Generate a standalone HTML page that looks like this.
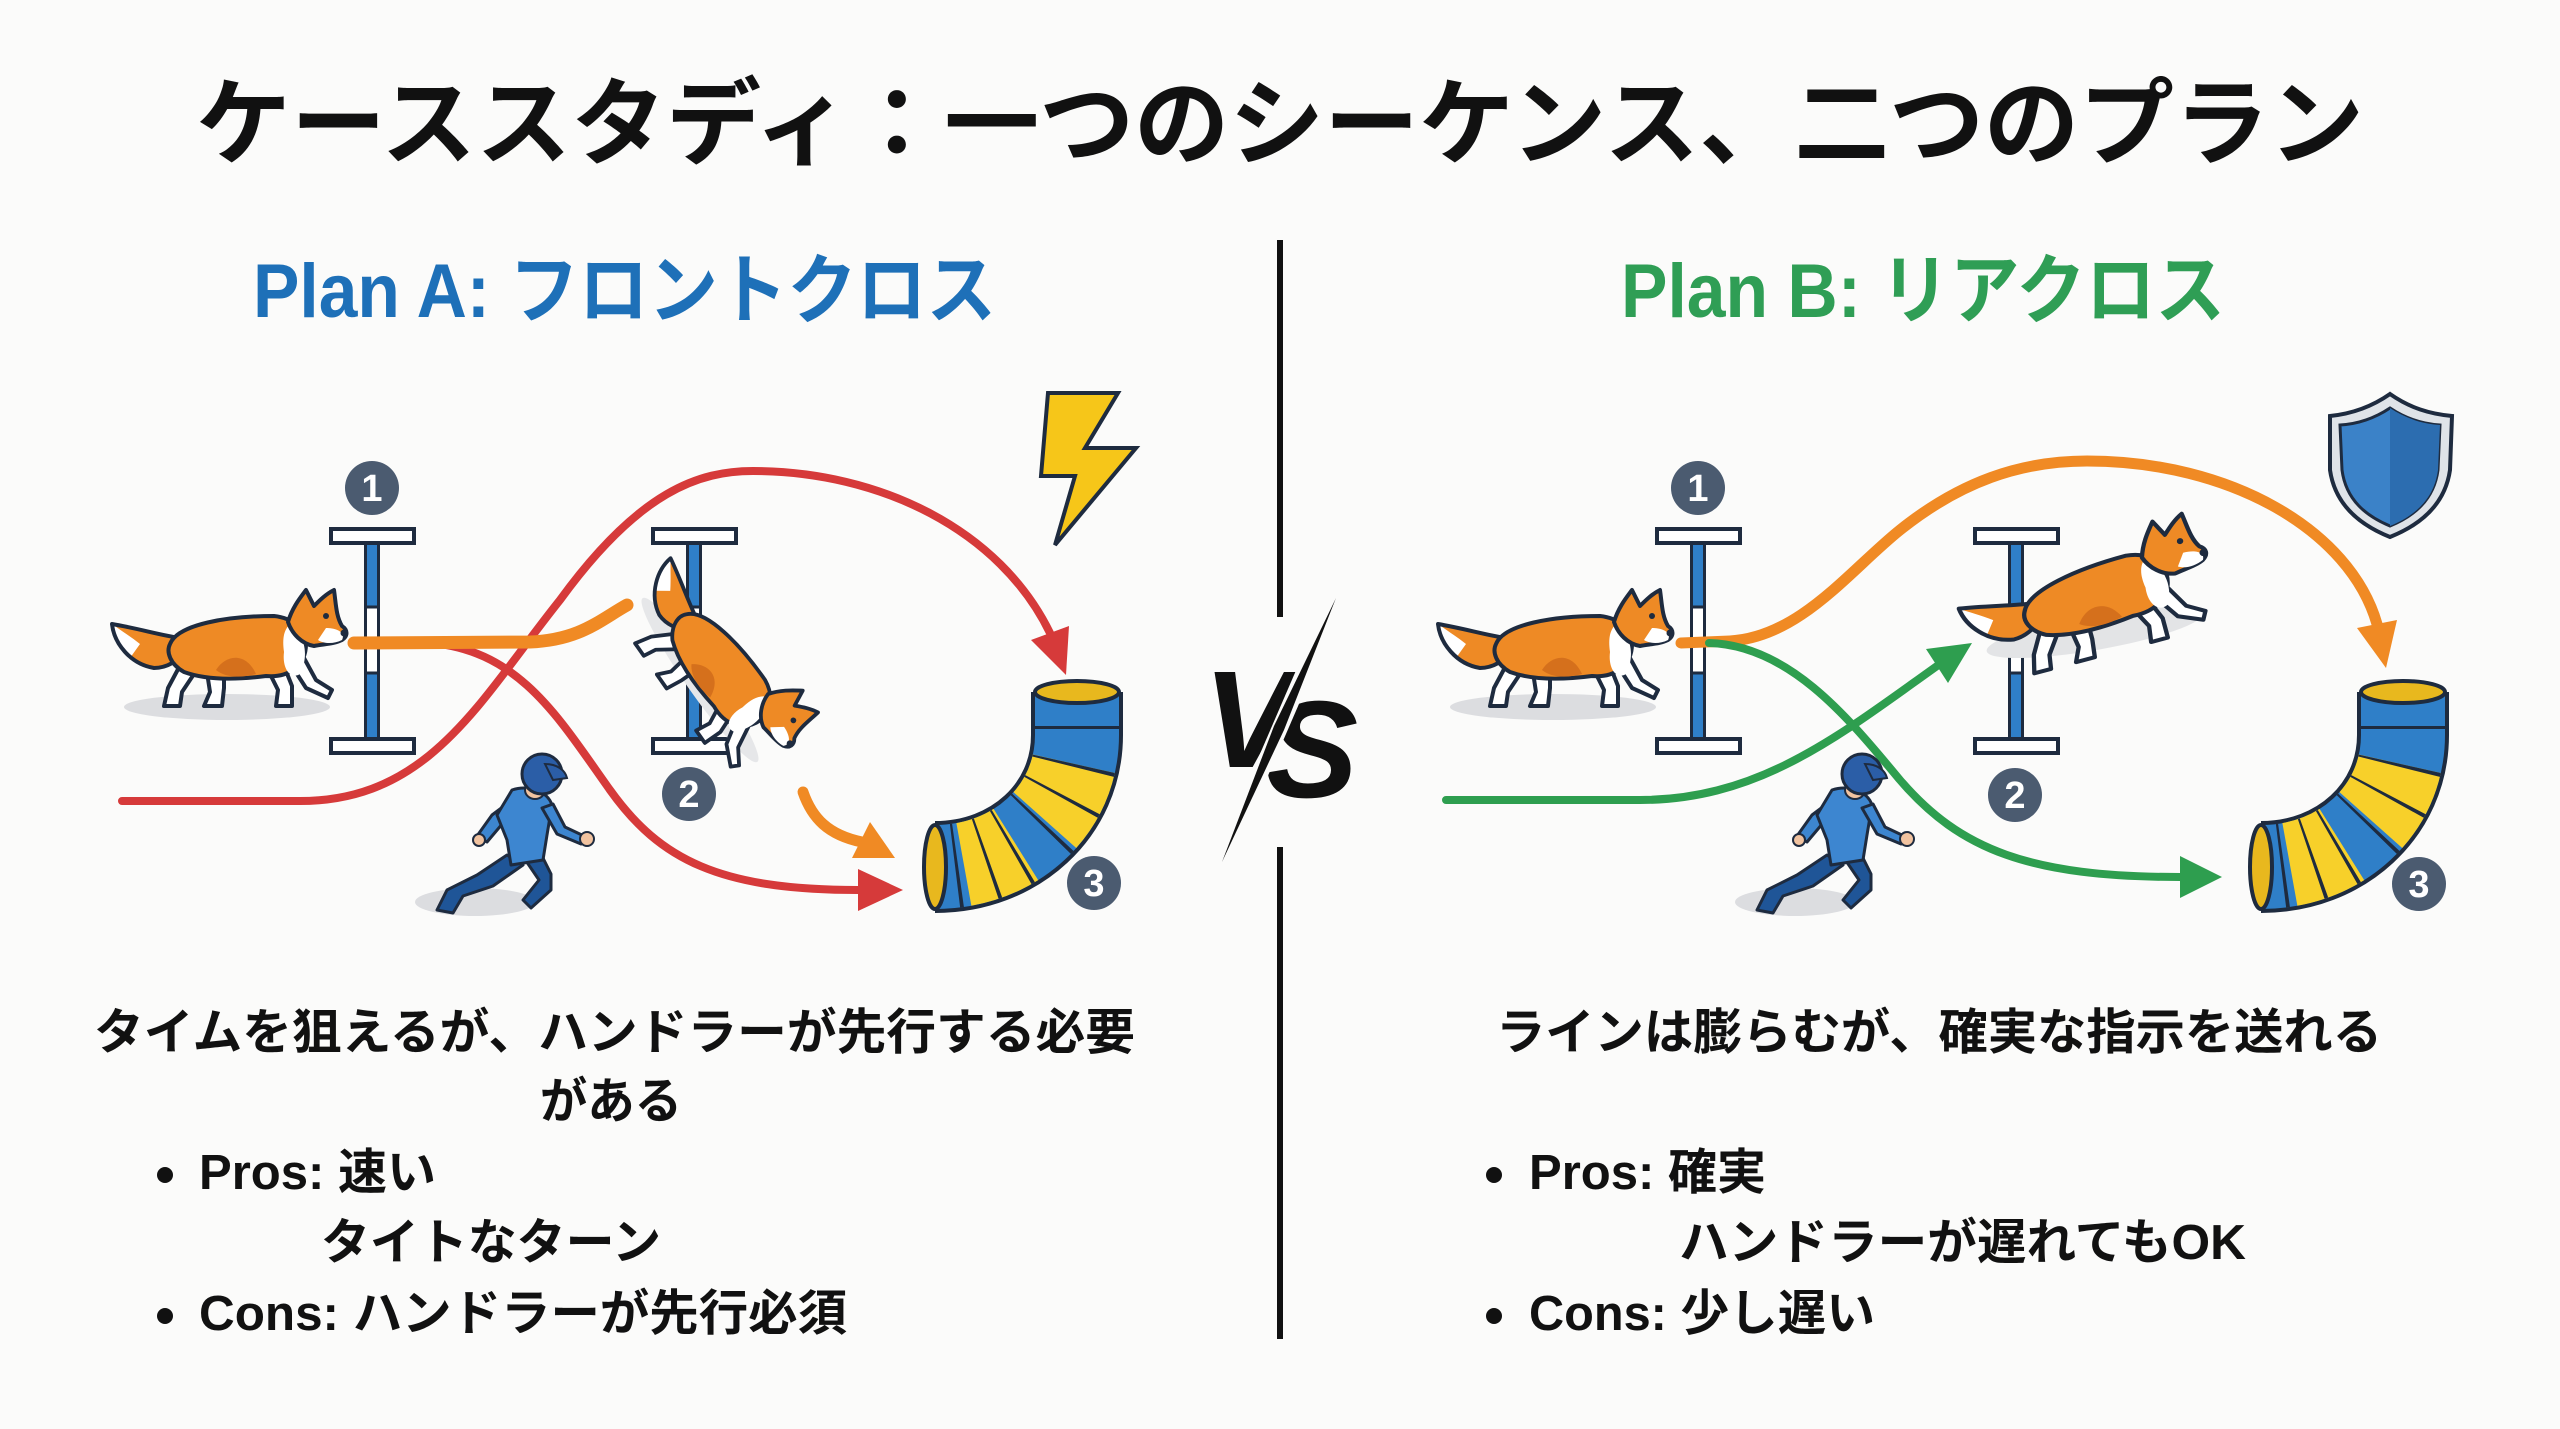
<!DOCTYPE html>
<html>
<head>
<meta charset="utf-8">
<style>
html,body{margin:0;padding:0;background:#fbfbfa;}
body{width:2560px;height:1429px;overflow:hidden;}
svg{display:block;}
text{font-family:"Liberation Sans","Noto Sans CJK JP",sans-serif;font-weight:bold;}
</style>
</head>
<body>
<svg width="2560" height="1429" viewBox="0 0 2560 1429" xmlns="http://www.w3.org/2000/svg">
<defs>
  <g id="dog">
    <path d="M78,70 L62,100 L58,118 L74,118 L76,104 L92,80Z" fill="#fff" stroke="#1e2b3f" stroke-width="4" stroke-linejoin="round"/>
    <path d="M100,78 L104,104 L98,118 L116,118 L118,100 L118,80Z" fill="#fff" stroke="#1e2b3f" stroke-width="4" stroke-linejoin="round"/>
    <path d="M160,78 L172,102 L170,118 L186,118 L186,98 L178,78Z" fill="#fff" stroke="#1e2b3f" stroke-width="4" stroke-linejoin="round"/>
    <path d="M182,72 L200,100 L222,110 L226,102 L210,92 L198,70Z" fill="#fff" stroke="#1e2b3f" stroke-width="4" stroke-linejoin="round"/>
    <path d="M74,50 C58,48 30,40 6,36 C8,55 24,76 48,80 C62,80 72,72 80,64Z" fill="#ee8a25"/>
    <path d="M6,36 C8,50 14,62 24,70 L34,56 C24,48 14,42 6,36Z" fill="#fff"/>
    <path d="M74,50 C58,48 30,40 6,36 C8,55 24,76 48,80 C62,80 72,72 80,64" fill="none" stroke="#1e2b3f" stroke-width="4" stroke-linejoin="round"/>
    <path d="M64,56 C72,36 122,28 168,28 C188,30 198,42 200,56 C200,78 182,90 160,88 C130,92 100,92 78,84 C64,76 60,64 64,56Z" fill="#ee8a25" stroke="#1e2b3f" stroke-width="4"/>
    <path d="M110,82 C120,66 140,64 150,86 C135,90 120,90 110,82Z" fill="#d5701c"/>
    <path d="M184,36 C198,46 204,66 194,86 C184,92 176,80 178,64 C176,50 178,42 184,36Z" fill="#fff"/>
    <path d="M182,34 C186,20 194,10 200,2 L208,18 C214,12 220,6 228,2 C230,16 230,28 236,38 C242,42 242,48 236,52 C228,56 218,56 208,58 C196,56 186,46 182,34Z" fill="#ee8a25" stroke="#1e2b3f" stroke-width="4" stroke-linejoin="round"/>
    <path d="M220,40 C230,40 240,44 236,52 C228,56 218,56 212,52Z" fill="#fff"/>
    <circle cx="238" cy="45" r="3.5" fill="#1e2b3f"/>
    <circle cx="220" cy="28" r="3" fill="#1e2b3f"/>
  </g>
  <g id="handler">
    <ellipse cx="58" cy="152" rx="60" ry="14" fill="#dcdde0"/>
    <path d="M90,105 L60,125 L30,140 L20,160 L36,163 L46,146 L76,136 L106,115Z" fill="#1f5597" stroke="#1e2b3f" stroke-width="3" stroke-linejoin="round"/>
    <path d="M105,105 L122,130 L106,150 L114,158 L134,140 L134,124 L122,100Z" fill="#1f5597" stroke="#1e2b3f" stroke-width="3" stroke-linejoin="round"/>
    <path d="M95,50 L75,65 L60,86 L70,92 L86,73 L102,62Z" fill="#3d86d0" stroke="#1e2b3f" stroke-width="3" stroke-linejoin="round"/>
    <circle cx="62" cy="90" r="6" fill="#f1c3a0" stroke="#1e2b3f" stroke-width="2"/>
    <path d="M95,40 C110,35 130,40 135,55 L130,85 L126,110 L94,115 L90,90 L80,65 Z" fill="#3d86d0" stroke="#1e2b3f" stroke-width="3" stroke-linejoin="round"/>
    <path d="M125,58 L140,84 L164,94 L167,86 L148,77 L136,54Z" fill="#3d86d0" stroke="#1e2b3f" stroke-width="3" stroke-linejoin="round"/>
    <circle cx="170" cy="89" r="7" fill="#f1c3a0" stroke="#1e2b3f" stroke-width="2"/>
    <ellipse cx="118" cy="40" rx="10" ry="9" fill="#f1c3a0" stroke="#1e2b3f" stroke-width="2"/>
    <circle cx="125" cy="24" r="20" fill="#2b5ea7" stroke="#1e2b3f" stroke-width="3"/>
    <path d="M128,14 C140,14 148,20 150,28 L136,30Z" fill="#2b5ea7" stroke="#1e2b3f" stroke-width="2"/>
  </g>
  <g id="jump">
    <rect x="-6.5" y="543" width="13" height="196" fill="#fff" stroke="#1e2b3f" stroke-width="3"/>
    <rect x="-6.5" y="543" width="13" height="64" fill="#2f7fc8" stroke="#1e2b3f" stroke-width="3"/>
    <rect x="-6.5" y="673" width="13" height="66" fill="#2f7fc8" stroke="#1e2b3f" stroke-width="3"/>
    <rect x="-41" y="529" width="83" height="14" fill="#fff" stroke="#1e2b3f" stroke-width="4"/>
    <rect x="-41" y="739" width="83" height="14" fill="#fff" stroke="#1e2b3f" stroke-width="4"/>
  </g>
  <g id="tunnel">
    <path d="M1077,692 L1077,735 C1077,810 1015,867 935,867" fill="none" stroke="#1e2b3f" stroke-width="92"/>
    <path d="M1077,692 L1077,735 C1077,810 1015,867 935,867" fill="none" stroke="#2f7fc8" stroke-width="84"/>
    <path d="M1077,692 L1077,735 C1077,810 1015,867 935,867" fill="none" stroke="#f7d02a" stroke-width="84" stroke-dasharray="0 72 64 38 56 300"/>
    <path d="M1077,692 L1077,735 C1077,810 1015,867 935,867" fill="none" stroke="#1e2b3f" stroke-width="84" stroke-dasharray="0 34 3 35 3 30 3 31 3 35 3 25 3 28 3 300"/>
    <ellipse cx="1077" cy="692" rx="42" ry="11" fill="#e8b81e" stroke="#1e2b3f" stroke-width="4"/>
    <ellipse cx="935" cy="867" rx="11" ry="42" fill="#e8b81e" stroke="#1e2b3f" stroke-width="4"/>
  </g>
</defs>

<rect width="2560" height="1429" fill="#fbfbfa"/>

<text x="1280" y="157" font-size="95" fill="#111" text-anchor="middle" textLength="2168" lengthAdjust="spacingAndGlyphs">ケーススタディ：一つのシーケンス、二つのプラン</text>

<text x="253" y="317" font-size="76" fill="#1e70b8" textLength="743" lengthAdjust="spacingAndGlyphs">Plan A: フロントクロス</text>
<text x="1621" y="317" font-size="76" fill="#2f9e55" textLength="604" lengthAdjust="spacingAndGlyphs">Plan B: リアクロス</text>

<rect x="1277" y="240" width="6" height="377" fill="#111"/>
<rect x="1277" y="847" width="6" height="492" fill="#111"/>

<text x="1203" y="767" font-size="138" font-style="italic" fill="#111">V</text>
<text x="1266" y="797" font-size="138" font-style="italic" fill="#111">S</text>
<line x1="1336" y1="598" x2="1222" y2="862" stroke="#fbfbfa" stroke-width="16"/>
<polygon points="1336,598 1284,730 1222,862 1274,726" fill="#111"/>

<!-- LEFT PANEL -->
<use href="#jump" transform="translate(372,0)"/>
<use href="#jump" transform="translate(694,0)"/>
<use href="#tunnel"/>

<polygon points="1048,393 1118,393 1085,448 1136,448 1055,545 1075,476 1041,476" fill="#f6c619" stroke="#1e2b3f" stroke-width="4" stroke-linejoin="miter"/>

<path d="M122,801 L300,801 C430,801 480,700 560,600 C640,490 700,471 753,471 C880,471 1000,530 1050,633" fill="none" stroke="#d63a3a" stroke-width="8" stroke-linecap="round"/>
<polygon points="1066,675 1069,626 1031,640" fill="#d63a3a"/>
<path d="M430,643 C520,650 560,720 610,790 C660,860 720,890 858,890" fill="none" stroke="#d63a3a" stroke-width="8" stroke-linecap="round"/>
<polygon points="903,890 858,869 858,911" fill="#d63a3a"/>

<path d="M354,643 L530,642 C580,640 600,620 627,605" fill="none" stroke="#f08a24" stroke-width="13" stroke-linecap="round"/>
<path d="M803,792 C812,818 828,835 862,842" fill="none" stroke="#f08a24" stroke-width="11" stroke-linecap="round"/>
<polygon points="895,858 870,822 852,858" fill="#f08a24"/>

<ellipse cx="227" cy="707" rx="103" ry="13" fill="#dcdde0"/>
<use href="#dog" transform="translate(106,588)"/>
<ellipse cx="700" cy="680" rx="100" ry="14" fill="#e6e7e9" transform="rotate(55 700 680)"/>
<use href="#dog" transform="translate(714,660) rotate(55) scale(0.95) translate(-120,-60)"/>
<use href="#handler" transform="translate(417,750)"/>

<circle cx="372" cy="488" r="27" fill="#4b5b70"/>
<text x="372" y="501" font-size="38" fill="#fff" text-anchor="middle">1</text>
<circle cx="689" cy="794" r="27" fill="#4b5b70"/>
<text x="689" y="807" font-size="38" fill="#fff" text-anchor="middle">2</text>
<circle cx="1094" cy="883" r="27" fill="#4b5b70"/>
<text x="1094" y="896" font-size="38" fill="#fff" text-anchor="middle">3</text>

<!-- RIGHT PANEL -->
<use href="#jump" transform="translate(1698,0)"/>
<use href="#jump" transform="translate(2016,0)"/>
<use href="#tunnel" transform="translate(1326,0)"/>

<path d="M2390,394 C2410,408 2430,414 2452,416 L2450,470 C2445,505 2420,525 2390,537 C2360,525 2335,505 2330,470 L2330,416 C2350,414 2370,408 2390,394Z" fill="#dfe3e8" stroke="#1e2b3f" stroke-width="4"/>
<path d="M2390,408 C2405,418 2422,424 2440,425 L2438,470 C2434,500 2414,516 2390,526 C2366,516 2346,500 2342,470 L2340,425 C2358,424 2375,418 2390,408Z" fill="#3b82c8" stroke="#1e2b3f" stroke-width="3"/>
<path d="M2390,408 C2405,418 2422,424 2440,425 L2438,470 C2434,500 2414,516 2390,526Z" fill="#2c6db0"/>

<path d="M1681,643 L1730,641 C1800,637 1850,570 1900,530 C1960,482 2020,461 2087,461 C2230,461 2350,530 2377,624" fill="none" stroke="#f08a24" stroke-width="11" stroke-linecap="round"/>
<polygon points="2386,668 2397,620 2357,628" fill="#f08a24"/>

<path d="M1446,800 L1640,800 C1760,800 1840,735 1937,666" fill="none" stroke="#2e9e4f" stroke-width="8" stroke-linecap="round"/>
<polygon points="1972,643 1948,683 1926,649" fill="#2e9e4f"/>
<path d="M1709,643 C1790,645 1850,720 1900,780 C1960,850 2030,877 2180,877" fill="none" stroke="#2e9e4f" stroke-width="8" stroke-linecap="round"/>
<polygon points="2222,877 2180,856 2180,898" fill="#2e9e4f"/>

<ellipse cx="1553" cy="707" rx="103" ry="13" fill="#dcdde0"/>
<use href="#dog" transform="translate(1432,588)"/>
<ellipse cx="2095" cy="632" rx="110" ry="18" fill="#e3e4e6" transform="rotate(-10 2095 632)"/>
<use href="#dog" transform="translate(2084,600) rotate(-15) scale(1.08,1) translate(-120,-60)"/>
<use href="#handler" transform="translate(1737,750)"/>

<circle cx="1698" cy="488" r="27" fill="#4b5b70"/>
<text x="1698" y="501" font-size="38" fill="#fff" text-anchor="middle">1</text>
<circle cx="2015" cy="795" r="27" fill="#4b5b70"/>
<text x="2015" y="808" font-size="38" fill="#fff" text-anchor="middle">2</text>
<circle cx="2419" cy="884" r="27" fill="#4b5b70"/>
<text x="2419" y="897" font-size="38" fill="#fff" text-anchor="middle">3</text>

<text x="94" y="1049" font-size="49" fill="#111" textLength="1041" lengthAdjust="spacingAndGlyphs">タイムを狙えるが、ハンドラーが先行する必要</text>
<text x="540" y="1118" font-size="49" fill="#111" textLength="142" lengthAdjust="spacingAndGlyphs">がある</text>
<circle cx="165" cy="1175" r="8" fill="#111"/>
<text x="199" y="1189" font-size="49" fill="#111" textLength="237" lengthAdjust="spacingAndGlyphs">Pros: 速い</text>
<text x="321" y="1259" font-size="49" fill="#111" textLength="340" lengthAdjust="spacingAndGlyphs">タイトなターン</text>
<circle cx="165" cy="1316" r="8" fill="#111"/>
<text x="199" y="1330" font-size="49" fill="#111" textLength="648" lengthAdjust="spacingAndGlyphs">Cons: ハンドラーが先行必須</text>

<text x="1496" y="1049" font-size="49" fill="#111" textLength="886" lengthAdjust="spacingAndGlyphs">ラインは膨らむが、確実な指示を送れる</text>
<circle cx="1494" cy="1175" r="8" fill="#111"/>
<text x="1529" y="1189" font-size="49" fill="#111" textLength="237" lengthAdjust="spacingAndGlyphs">Pros: 確実</text>
<text x="1679" y="1259" font-size="49" fill="#111" textLength="567" lengthAdjust="spacingAndGlyphs">ハンドラーが遅れてもOK</text>
<circle cx="1494" cy="1316" r="8" fill="#111"/>
<text x="1529" y="1330" font-size="49" fill="#111" textLength="346" lengthAdjust="spacingAndGlyphs">Cons: 少し遅い</text>
</svg>
</body>
</html>
